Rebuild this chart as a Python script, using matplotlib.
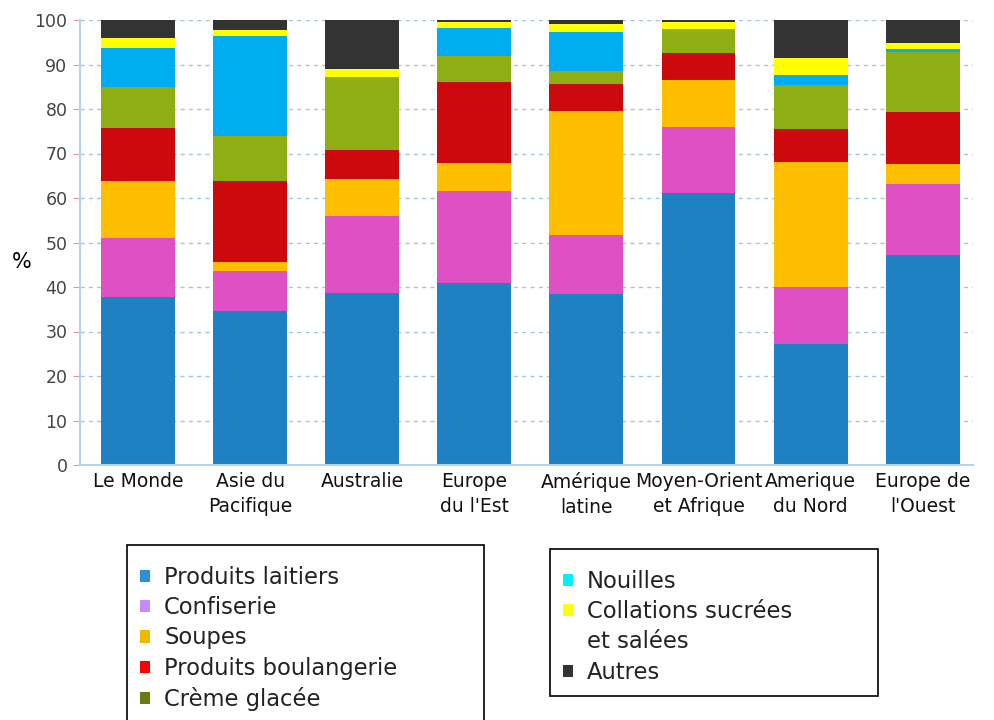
import matplotlib.pyplot as plt
from matplotlib.patches import Patch, Rectangle
import numpy as np

regions = ['Le Monde', 'Asie du\nPacifique', 'Australie', 'Europe\ndu l\'Est',
           'Amérique\nlatine', 'Moyen-Orient\net Afrique', 'Amerique\ndu Nord',
           'Europe de\nl\'Ouest']

# share of each category (%), bottom to top
laitiers     = [37.7, 34.5, 38.6, 41.0, 38.5, 61.2, 27.3, 47.3]
confiserie   = [13.4,  9.0, 17.4, 20.5, 13.2, 14.7, 12.7, 15.8]
soupes       = [12.7,  2.1,  8.3,  6.4, 27.9, 10.7, 28.1,  4.6]
boulangerie  = [11.9, 18.2,  6.4, 18.1,  6.0,  5.9,  7.3, 11.7]
creme_glacee = [ 9.3, 10.1, 16.5,  5.8,  3.0,  5.5, 10.0, 13.3]
nouilles     = [ 8.6, 22.4,  0.0,  6.3,  8.8,  0.0,  2.2,  0.7]
collations   = [ 2.3,  1.5,  1.9,  1.5,  1.8,  1.5,  3.8,  1.5]
autres       = [ 4.1,  3.0, 10.9,  0.6,  0.8,  0.8,  8.6,  5.1]

series = [laitiers, confiserie, soupes, boulangerie, creme_glacee,
          nouilles, collations, autres]
bar_colors = ['#1e82c2', '#de50c4', '#ffbf00', '#cc0a0e', '#8fae14',
              '#00aeef', '#ffff00', '#333333']

legend1_labels = ['Produits laitiers', 'Confiserie', 'Soupes',
                  'Produits boulangerie', 'Crème glacée']
legend1_colors = ['#2f8fd6', '#c48cff', '#f0b800', '#ff0000', '#6b7a10']
# second line of the yellow entry gets no swatch
legend2_labels = ['Nouilles', 'Collations sucrées', 'et salées', 'Autres']
legend2_colors = ['#00f0ff', '#ffff00', 'none', '#333333']

W, H = 995, 720
fig = plt.figure(figsize=(W/100, H/100), dpi=100)
ax = fig.add_axes([80/W, 1-465/H, 893/W, 445/H])

x = np.arange(len(regions))
bottom = np.zeros(len(regions))
for vals, c in zip(series, bar_colors):
  ax.bar(x, vals, width=0.66, bottom=bottom, color=c, linewidth=0, zorder=2)
  bottom += np.array(vals)

ax.set_xlim(-0.52, 7.45)
ax.set_ylim(0, 100)
ax.set_yticks(range(0, 101, 10))
ax.set_xticks(x)
ax.set_xticklabels(regions, fontsize=13.5, color='#111111', linespacing=1.4)
ax.tick_params(axis='x', length=0, pad=5)
ax.tick_params(axis='y', length=5, color='#e090c0', labelsize=12.5,
               labelcolor='#444444', pad=4)

ax.grid(axis='y', color='#a8c4dc', linestyle=(0, (3, 3)), linewidth=1, zorder=0)
for s in ['top', 'right']:
  ax.spines[s].set_visible(False)
ax.spines['left'].set_color('#b8d4ec')
ax.spines['bottom'].set_color('#b8d4ec')
ax.spines['left'].set_linewidth(1.5)
ax.spines['bottom'].set_linewidth(1.5)

fig.text(22/W, 1-262/H, '%', fontsize=15, ha='center', va='center')

# legend boxes (the first one runs past the bottom edge)
for (x0, y0, x1, y1) in [(127, 545, 484, 730), (550, 549, 878, 696)]:
  fig.add_artist(Rectangle((x0/W, 1-y1/H), (x1-x0)/W, (y1-y0)/H,
                           transform=fig.transFigure, facecolor='none',
                           edgecolor='black', linewidth=1.2))

h1 = [Patch(facecolor=c, edgecolor='none') for c in legend1_colors]
h2 = [Patch(facecolor=c, edgecolor='none') for c in legend2_colors]

common = dict(loc='upper left', fontsize=16.3, frameon=False,
              handlelength=0.45, handleheight=0.45, handletextpad=0.62,
              labelspacing=0.32, borderpad=0, borderaxespad=0)

leg1 = fig.legend(h1, legend1_labels, bbox_to_anchor=(140/W, 1-566/H), **common)
leg2 = fig.legend(h2, legend2_labels, bbox_to_anchor=(563/W, 1-570/H), **common)
for t in leg1.get_texts() + leg2.get_texts():
  t.set_color('#222222')

fig.savefig('out.png', dpi=100)
